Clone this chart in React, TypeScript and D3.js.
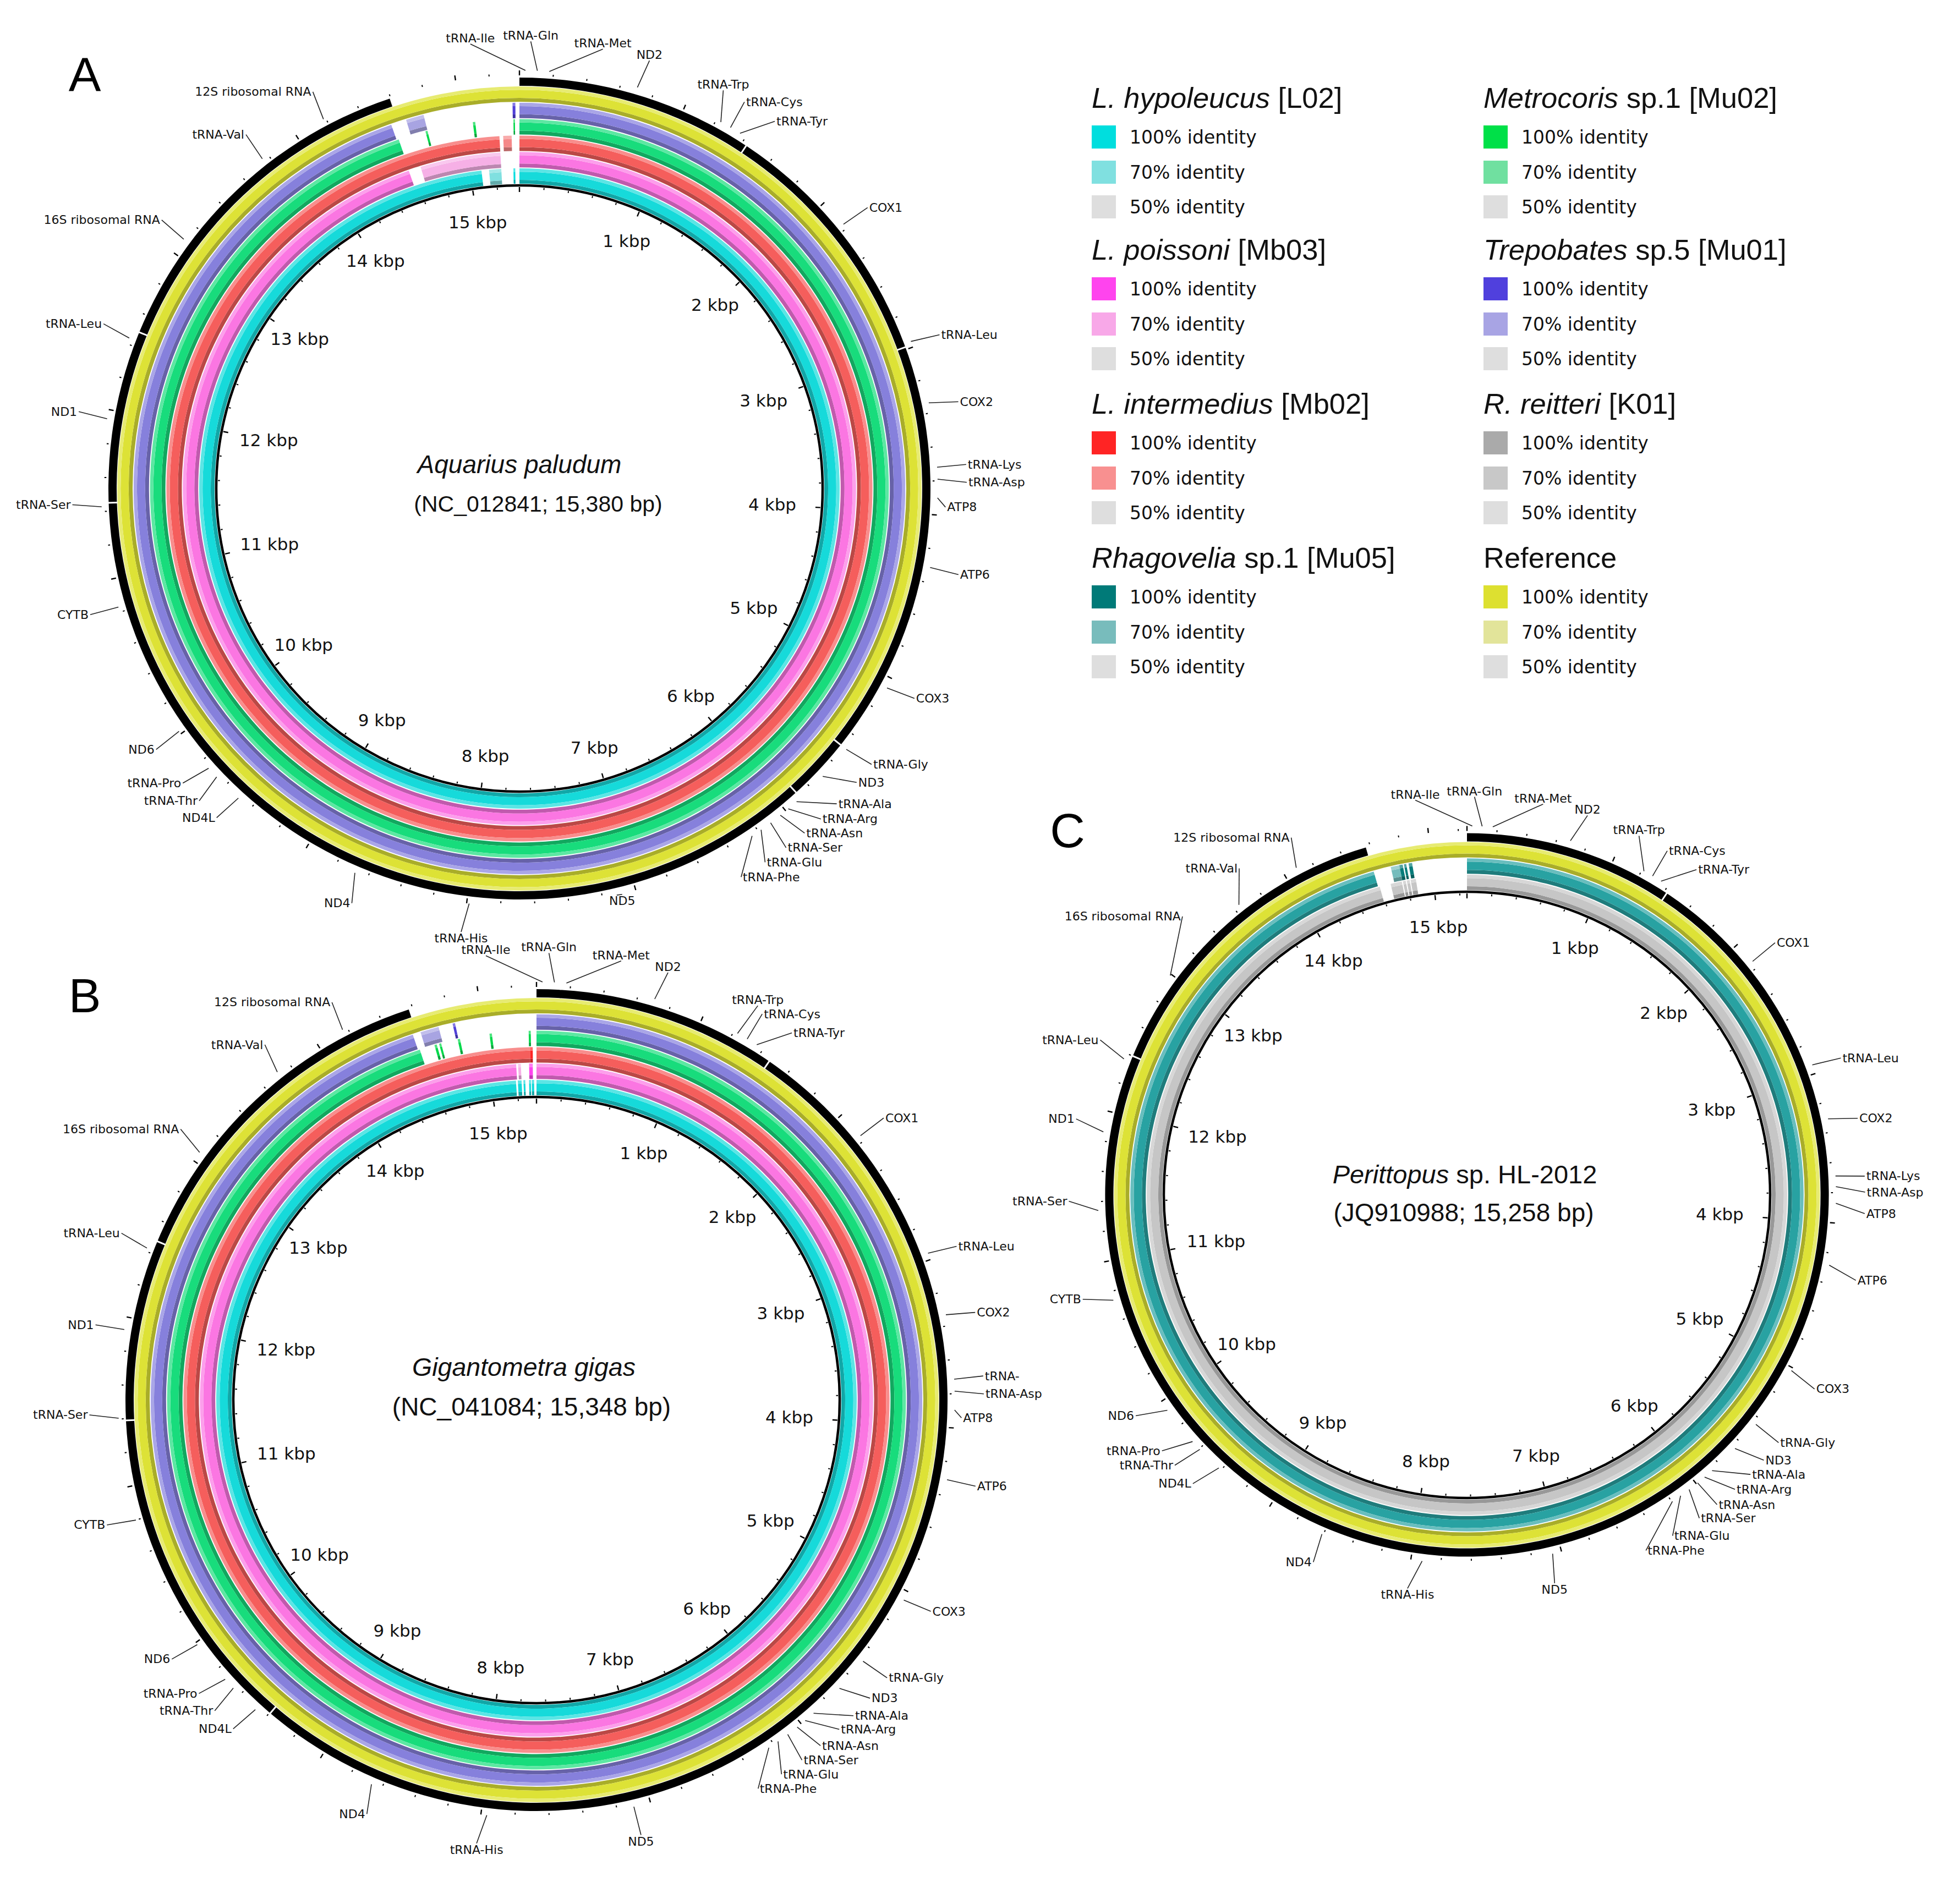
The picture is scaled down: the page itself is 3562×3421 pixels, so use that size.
import * as d3 from "d3";
import { useEffect } from "react";

type Seg = [number, number, number?];

// gene order around the mitogenome (clockwise from 0)
const GENE_NAMES = [
  "tRNA-Ile", "tRNA-Gln", "tRNA-Met", "ND2", "tRNA-Trp", "tRNA-Cys", "tRNA-Tyr", "COX1", "tRNA-Leu", "COX2",
  "tRNA-Lys", "tRNA-Asp", "ATP8", "ATP6", "COX3", "tRNA-Gly", "ND3", "tRNA-Ala", "tRNA-Arg", "tRNA-Asn",
  "tRNA-Ser", "tRNA-Glu", "tRNA-Phe", "ND5", "tRNA-His", "ND4", "ND4L", "tRNA-Thr", "tRNA-Pro", "ND6",
  "CYTB", "tRNA-Ser", "ND1", "tRNA-Leu", "16S ribosomal RNA", "tRNA-Val", "12S ribosomal RNA",
];
// panel B has the tRNA-Lys label clipped
const GENE_NAMES_B = GENE_NAMES.map((n) => (n === "tRNA-Lys" ? "tRNA-" : n));

// gene positions (bp) and where each label sits (bp along the circle)
const A_GENE_POS = [35, 105, 175, 700, 1230, 1295, 1360, 2170, 2965, 3340, 3720, 3790, 3900, 4310, 5062, 5494, 5704, 5917, 5981, 6041, 6113, 6182, 6246, 7115, 7985, 8680, 9494, 9672, 9741, 10018, 10831, 11428, 11945, 12436, 13099, 13759, 14186];
const A_LABEL_POS = [-269, 62, 459, 722, 1158, 1290, 1487, 2183, 2986, 3367, 3713, 3811, 3952, 4319, 5041, 5472, 5600, 5760, 5880, 5998, 6127, 6267, 6421, 7083, 8010, 8630, 9510, 9643, 9775, 10010, 10835, 11446, 11958, 12458, 13111, 13770, 14205];
const B_GENE_POS = [35, 105, 175, 700, 1225, 1290, 1355, 2165, 2960, 3335, 3715, 3785, 3895, 4305, 5055, 5485, 5695, 5905, 5970, 6030, 6100, 6170, 6235, 7100, 7965, 8665, 9475, 9655, 9725, 9985, 10800, 11405, 11925, 12420, 13060, 13715, 14170];
const B_LABEL_POS = [-277, 68, 465, 729, 1249, 1292, 1484, 2170, 2980, 3355, 3705, 3803, 3939, 4310, 5039, 5474, 5619, 5751, 5858, 5994, 6122, 6258, 6408, 7098, 8002, 8624, 9494, 9635, 9763, 10002, 10820, 11430, 11924, 12445, 13101, 13754, 14188];
const C_GENE_POS = [35, 100, 170, 690, 1215, 1280, 1345, 2150, 2940, 3310, 3690, 3760, 3870, 4280, 5020, 5445, 5655, 5865, 5930, 5990, 6060, 6130, 6195, 7060, 7925, 8610, 9420, 9595, 9665, 9930, 10740, 11340, 11860, 12360, 12990, 13640, 14090];
const C_LABEL_POS = [-316, 46, 467, 747, 1085, 1280, 1492, 2149, 2962, 3344, 3700, 3798, 3929, 4340, 5052, 5446, 5586, 5705, 5836, 5980, 6116, 6311, 6497, 7090, 7993, 8591, 9473, 9630, 9748, 10015, 10799, 11405, 11910, 12414, 13325, 13779, 14148];

// white boundaries visible in the black annotation ring
const A_NOTCHES = [1430, 2985, 5494, 5883, 11450, 12490];
const B_NOTCHES = [1470, 9395, 11390, 12480];
const C_NOTCHES = [1420, 12400];

// BLAST identity rings, [start, end, identity] ; no identity = ring body
const A_CYAN: Seg[] = [[0, 15089], [15147, 15241, 70], [15334, 15348, 100]];
const A_PINK: Seg[] = [[0, 14560], [14650, 15241, 70]];
const A_RED: Seg[] = [[0, 15241], [15267, 15326, 70]];
const A_GREEN: Seg[] = [[0, 14565], [14750, 14764, 100], [15070, 15086, 100], [15340, 15350, 100]];
const A_PURPLE: Seg[] = [[0, 14551], [14650, 14765, 70], [15336, 15354, 100]];
const A_YELLOW: Seg[] = [[0, 15380]];

const B_CYAN: Seg[] = [[0, 15191], [15205, 15234], [15248, 15262], [15291, 15305], [15312, 15330]];
const B_PINK: Seg[] = [[0, 15200], [15214, 15234, 70], [15294, 15321, 100]];
const B_RED: Seg[] = [[0, 15303], [15303, 15322, 100]];
const B_GREEN: Seg[] = [[0, 14563], [14664, 14680, 100], [14696, 14710, 100], [14822, 14838, 100], [15036, 15052, 100], [15296, 15310, 100]];
const B_PURPLE: Seg[] = [[0, 14551], [14602, 14721, 70], [14812, 14828, 100]];
const B_YELLOW: Seg[] = [[0, 15348]];

const C_GRAY: Seg[] = [[0, 14588], [14673, 14760], [14768, 14790], [14798, 14820], [14828, 14868]];
const C_TEAL: Seg[] = [[0, 14576], [14703, 14766, 70], [14766, 14791, 100], [14800, 14817, 100], [14834, 14860, 100]];
const C_YELLOW: Seg[] = [[0, 15258]];

const COLORS = {
  cyan: { body: "#16dada", c100: "#00dede", c70: "#80e0e0" },
  pink: { body: "#fb76e2", c100: "#ff44ee", c70: "#f6b0e6" },
  red: { body: "#f55e5c", c100: "#ff2424", c70: "#f58888" },
  green: { body: "#18dc7c", c100: "#00d84a", c70: "#70e0a0" },
  purple: { body: "#8680dc", c100: "#5040d8", c70: "#a8a4e2" },
  yellow: { body: "#dde236", c100: "#dde236", c70: "#e2e49a" },
  teal: { body: "#28a2a2", c100: "#087c7a", c70: "#74bcbc" },
  gray: { body: "#c6c6c6", c100: "#aaaaaa", c70: "#d2d2d2" },
};

// legend
const LEGEND_COL1 = [
  { it: "L. hypoleucus", rest: " [L02]", c100: "#00dede", c70: "#80e0e0" },
  { it: "L. poissoni", rest: " [Mb03]", c100: "#ff44ee", c70: "#f8a8e8" },
  { it: "L. intermedius", rest: " [Mb02]", c100: "#ff2424", c70: "#f89090" },
  { it: "Rhagovelia", rest: " sp.1 [Mu05]", c100: "#007a78", c70: "#78bcbc" },
];
const LEGEND_COL2 = [
  { it: "Metrocoris", rest: " sp.1 [Mu02]", c100: "#00e048", c70: "#70e0a0" },
  { it: "Trepobates", rest: " sp.5 [Mu01]", c100: "#5040dd", c70: "#a8a4e4" },
  { it: "R. reitteri", rest: " [K01]", c100: "#aaaaaa", c70: "#c8c8c8" },
  { it: "", rest: "Reference", c100: "#dde030", c70: "#e2e49a" },
];
const LEGEND_ITEMS = ["100% identity", "70% identity", "50% identity"];
const C50 = "#dedede";

const W = 3562;
const H = 3421;
const R_BB = 551;
const R_RING0 = 554;
const RING_STEP = 29.8;
const RING_W = 28;
const R_KBP = 502;
const KBP_FS = 31;

type Ring = { segs: Seg[]; col: { body: string; c100: string; c70: string } };
type PanelCfg = {
  letter: string; lx: number; ly: number;
  cx: number; cy: number; length: number;
  title: string; sub: string;
  t1: [number, number, number]; t2: [number, number, number];
  rings: Ring[]; annotEnd: number; notches: number[];
  names: string[]; genePos: number[]; labelPos: number[];
  labelShift: Record<number, number>;
};

const PANELS: PanelCfg[] = [
  {
    letter: "A", lx: 154, ly: 166, cx: 944, cy: 888, length: 15380,
    title: "Aquarius paludum", sub: "(NC_012841; 15,380 bp)",
    t1: [0, -44, 46], t2: [34, 28, 41],
    rings: [
      { segs: A_CYAN, col: COLORS.cyan }, { segs: A_PINK, col: COLORS.pink }, { segs: A_RED, col: COLORS.red },
      { segs: A_GREEN, col: COLORS.green }, { segs: A_PURPLE, col: COLORS.purple }, { segs: A_YELLOW, col: COLORS.yellow },
    ],
    annotEnd: 14594, notches: A_NOTCHES, names: GENE_NAMES, genePos: A_GENE_POS, labelPos: A_LABEL_POS,
    labelShift: { 12: -38, 23: -52 },
  },
  {
    letter: "B", lx: 154, ly: 1840, cx: 975, cy: 2545, length: 15348,
    title: "Gigantometra gigas", sub: "(NC_041084; 15,348 bp)",
    t1: [-23, -60, 46.5], t2: [-9, 12, 46],
    rings: [
      { segs: B_CYAN, col: COLORS.cyan }, { segs: B_PINK, col: COLORS.pink }, { segs: B_RED, col: COLORS.red },
      { segs: B_GREEN, col: COLORS.green }, { segs: B_PURPLE, col: COLORS.purple }, { segs: B_YELLOW, col: COLORS.yellow },
    ],
    annotEnd: 14576, notches: B_NOTCHES, names: GENE_NAMES_B, genePos: B_GENE_POS, labelPos: B_LABEL_POS,
    labelShift: { 4: 9, 12: -40 },
  },
  {
    letter: "C", lx: 1940, ly: 1540, cx: 2666, cy: 2172, length: 15258,
    title: "Perittopus", sub: "(JQ910988; 15,258 bp)",
    t1: [-4, -38, 47], t2: [-6, 32, 46],
    rings: [{ segs: C_GRAY, col: COLORS.gray }, { segs: C_TEAL, col: COLORS.teal }, { segs: C_YELLOW, col: COLORS.yellow }],
    annotEnd: 14570, notches: C_NOTCHES, names: GENE_NAMES, genePos: C_GENE_POS, labelPos: C_LABEL_POS,
    labelShift: {},
  },
];

const arc = d3.arc<any>();

function Panel({ p }: { p: PanelCfg }) {
  const ang = d3.scaleLinear().domain([0, p.length]).range([0, 2 * Math.PI]);
  const pt = (r: number, bp: number) => {
    const a = ang(bp);
    return [p.cx + r * Math.sin(a), p.cy - r * Math.cos(a)];
  };
  const ringIn = (i: number) => R_RING0 + i * RING_STEP;
  const annotIn = ringIn(p.rings.length - 1) + RING_W + 1;
  const annotOut = annotIn + 15;
  const rLab = annotOut + 66;

  const ringPaths: JSX.Element[] = [];
  p.rings.forEach((ring, i) => {
    const r0 = ringIn(i);
    ring.segs.forEach(([s, e, id], j) => {
      const base = id === 100 ? ring.col.c100 : id === 70 ? ring.col.c70 : ring.col.body;
      const dark = d3.color(base)!.darker(0.75).formatHex();
      const light = d3.interpolateRgb(base, "#ffffff")(0.3);
      const a0 = ang(s), a1 = ang(e);
      const bands: [number, number, string][] = [
        [r0, r0 + RING_W * 0.25, dark],
        [r0 + RING_W * 0.25, r0 + RING_W * 0.78, base],
        [r0 + RING_W * 0.78, r0 + RING_W, light],
      ];
      bands.forEach(([ri, ro, c], k) => {
        ringPaths.push(
          <path key={`r${i}-${j}-${k}`} fill={c}
            d={arc({ innerRadius: ri, outerRadius: ro, startAngle: a0, endAngle: a1 }) || ""} />
        );
      });
    });
  });

  const ticks = d3.range(0, p.length, 200);
  const kbp = d3.range(1000, p.length, 1000);

  return (
    <g>
      <text x={p.lx} y={p.ly} textAnchor="middle" fontFamily="Liberation Sans, Arial, sans-serif" fontSize={88}>{p.letter}</text>
      <g transform={`translate(${p.cx},${p.cy})`}>
        {ringPaths}
        <path fill="#000"
          d={arc({ innerRadius: annotIn, outerRadius: annotOut, startAngle: 0, endAngle: ang(p.annotEnd) }) || ""} />
        <circle r={R_BB} fill="none" stroke="#000" strokeWidth={4.5} />
      </g>
      {p.notches.map((n, i) => {
        const [x1, y1] = pt(annotIn - 1, n);
        const [x2, y2] = pt(annotOut + 1, n);
        return <line key={`n${i}`} x1={x1} y1={y1} x2={x2} y2={y2} stroke="#fff" strokeWidth={3} />;
      })}
      {ticks.map((t) => {
        const major = t % 1000 === 0;
        const len = major ? 9 : 3.5;
        const [a, b] = pt(R_BB - 3, t);
        const [c, d] = pt(R_BB - 3 - len, t);
        const [e, f] = pt(annotOut + 4, t);
        const [g, h] = pt(annotOut + 4 + len, t);
        return (
          <g key={`t${t}`} stroke="#000" strokeWidth={major ? 2.4 : 2}>
            <line x1={a} y1={b} x2={c} y2={d} />
            <line x1={e} y1={f} x2={g} y2={h} />
          </g>
        );
      })}
      {kbp.map((k) => {
        const s = `${k / 1000} kbp`;
        const sn = Math.abs(Math.sin(ang(k)));
        // labels pull inward near 3 and 9 o'clock so their boxes stay inside the backbone
        const [x, y] = pt(R_KBP - 12 - 30 * Math.pow(sn, 8), k);
        return (
          <text key={`k${k}`} x={x} y={y} textAnchor="middle" dominantBaseline="central"
            fontFamily="DejaVu Sans, sans-serif" fontSize={KBP_FS} fill="#111">{s}</text>
        );
      })}
      {p.names.map((name, i) => {
        const [x1, y1] = pt(annotOut + 13, p.genePos[i]);
        const [x2, y2] = pt(rLab + (p.labelShift[i] ?? 0), p.labelPos[i]);
        let deg = (p.labelPos[i] / p.length) * 360;
        deg = ((deg % 360) + 360) % 360;
        if (deg > 180) deg -= 360;
        let anchor = "middle", tx = x2, ty = y2 - 3, base = "auto";
        if (deg > -20 && deg < 30) {
          anchor = "middle"; ty = y2 - 3;
        } else if (Math.abs(deg) > 162) {
          anchor = "middle"; ty = y2 + 3; base = "hanging";
        } else if (deg > 0) {
          anchor = "start"; tx = x2 + 3; ty = y2; base = "central";
        } else {
          anchor = "end"; tx = x2 - 3; ty = y2; base = "central";
        }
        return (
          <g key={`g${i}`}>
            <line x1={x1} y1={y1} x2={x2} y2={y2} stroke="#222" strokeWidth={1.6} />
            <text x={tx} y={ty} textAnchor={anchor} dominantBaseline={base}
              fontFamily="DejaVu Sans, sans-serif" fontSize={22} fill="#111">{name}</text>
          </g>
        );
      })}
      <text x={p.cx + p.t1[0]} y={p.cy + p.t1[1]} textAnchor="middle" dominantBaseline="central"
        fontFamily="Liberation Sans, Arial, sans-serif" fontSize={p.t1[2]} fill="#111">
        <tspan fontStyle="italic">{p.title}</tspan>
        {p.letter === "C" ? <tspan> sp. HL-2012</tspan> : null}
      </text>
      <text x={p.cx + p.t2[0]} y={p.cy + p.t2[1]} textAnchor="middle" dominantBaseline="central"
        fontFamily="Liberation Sans, Arial, sans-serif" fontSize={p.t2[2]} fill="#111">{p.sub}</text>
    </g>
  );
}

const LEG_X = [1984, 2696];
const LEG_TITLE_Y = [177, 453, 733, 1013];
const ITEM_DY = [72, 136, 199];

function Legend() {
  const cols = [LEGEND_COL1, LEGEND_COL2];
  return (
    <g>
      {cols.map((col, ci) =>
        col.map((sp, gi) => {
          const x = LEG_X[ci];
          const y = LEG_TITLE_Y[gi];
          const cs = [sp.c100, sp.c70, C50];
          return (
            <g key={`l${ci}-${gi}`}>
              <text x={x} y={y} dominantBaseline="central" fontFamily="Liberation Sans, Arial, sans-serif"
                fontSize={52.5} fill="#111">
                {sp.it ? <tspan fontStyle="italic">{sp.it}</tspan> : null}
                <tspan>{sp.rest}</tspan>
              </text>
              {LEGEND_ITEMS.map((lab, k) => (
                <g key={k}>
                  <rect x={x} y={y + ITEM_DY[k] - 21} width={44} height={42} fill={cs[k]} />
                  <text x={x + 69} y={y + ITEM_DY[k]} dominantBaseline="central"
                    fontFamily="DejaVu Sans, sans-serif" fontSize={33} fill="#111">{lab}</text>
                </g>
              ))}
            </g>
          );
        })
      )}
    </g>
  );
}

export default function App() {
  useEffect(() => {
    document.body.style.margin = "0";
  }, []);
  return (
    <svg width={W} height={H} viewBox={`0 0 ${W} ${H}`} style={{ display: "block", background: "#fff" }}>
      <rect width={W} height={H} fill="#fff" />
      {PANELS.map((p) => (
        <Panel key={p.letter} p={p} />
      ))}
      <Legend />
    </svg>
  );
}
